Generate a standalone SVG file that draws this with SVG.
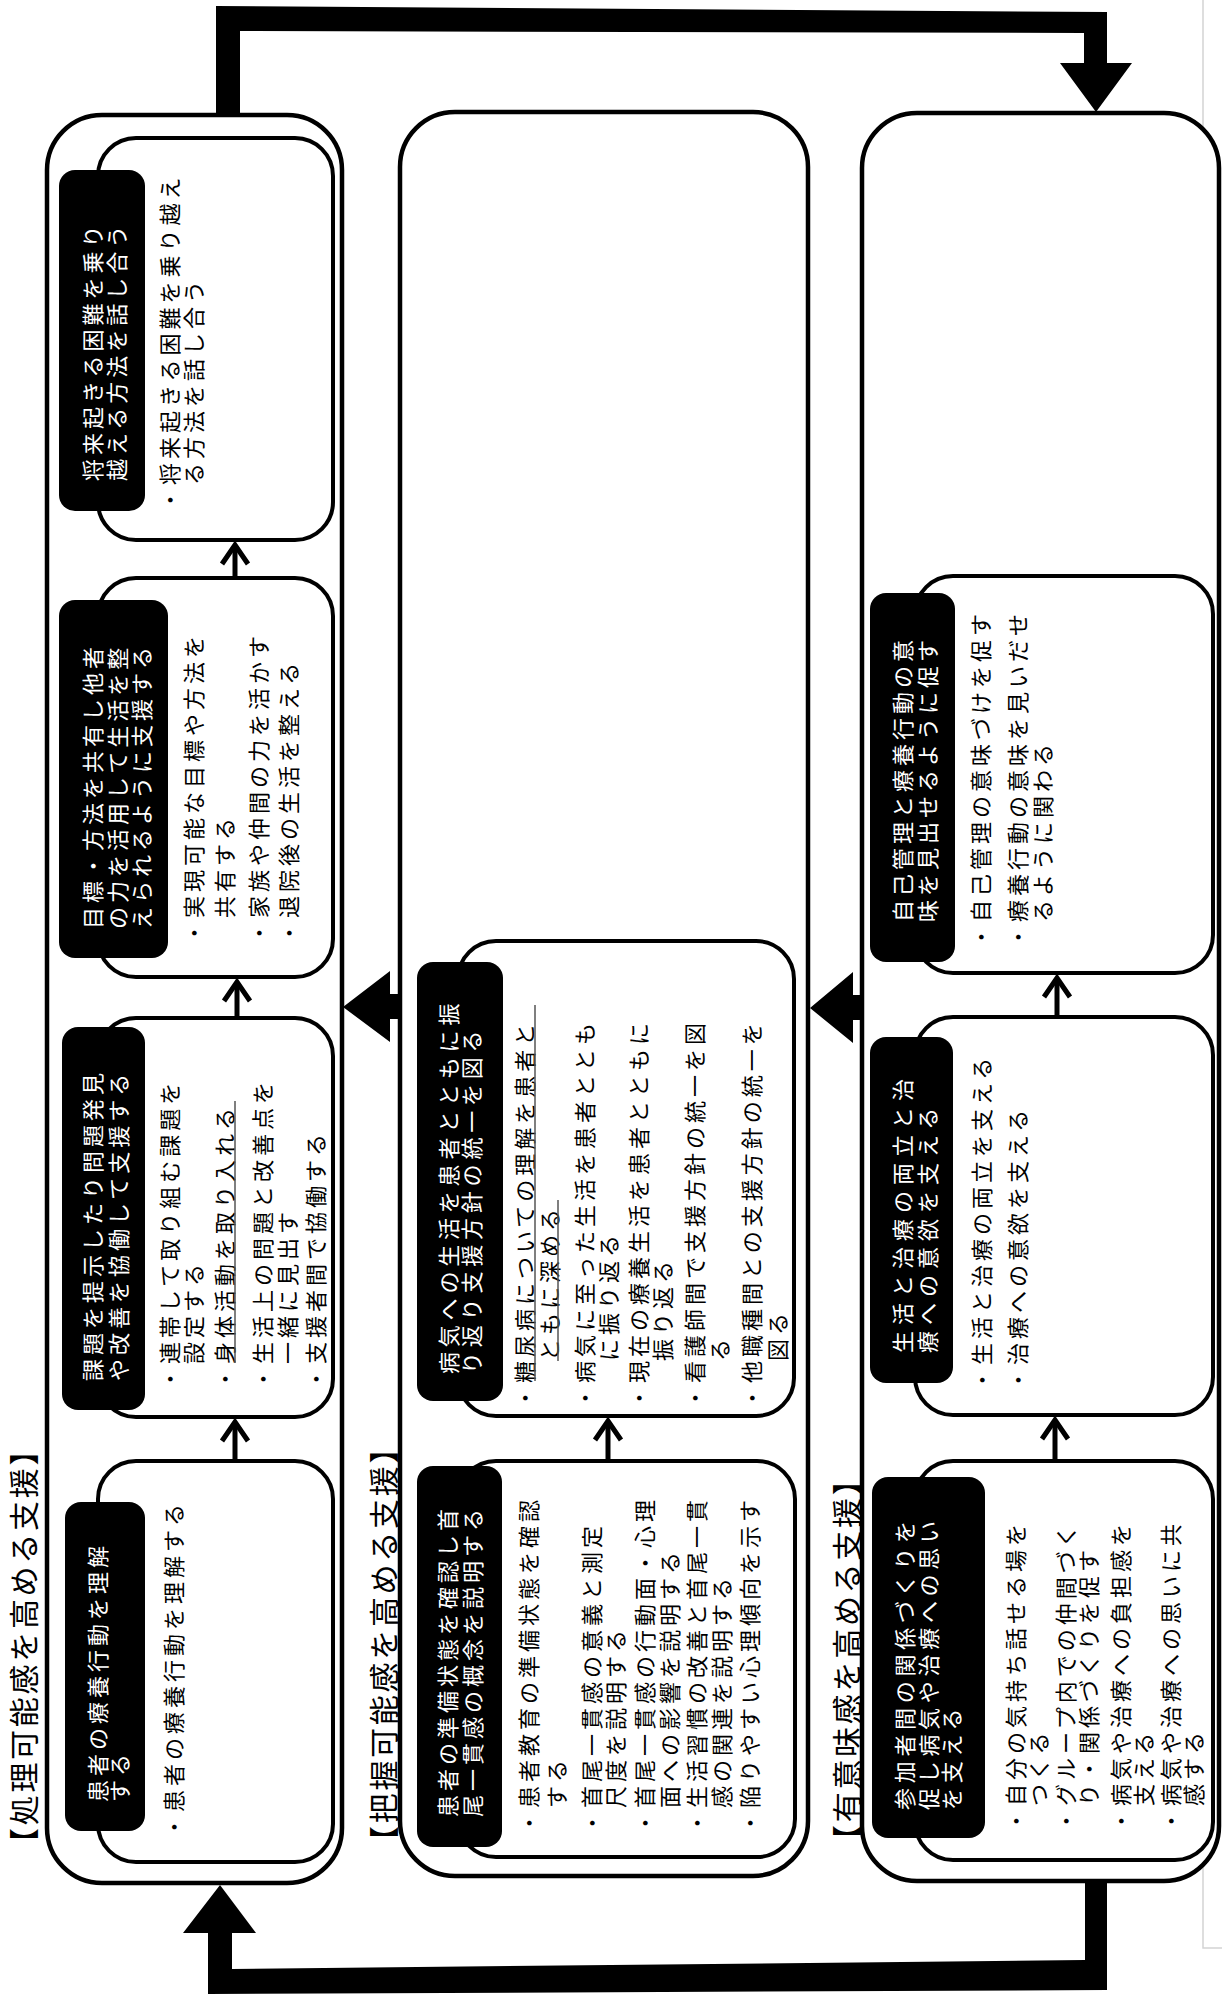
<svg xmlns="http://www.w3.org/2000/svg" width="1222" height="1999" viewBox="0 0 1222 1999">
<defs>
<style>
text{font-family:"Noto Sans CJK JP","Noto Sans CJK SC",sans-serif;dominant-baseline:central}
.outer{fill:#fff;stroke:#000;stroke-width:4.5}
.node{fill:#fff;stroke:#000;stroke-width:4}
.label{fill:#000}
.lt{fill:#fff;font-size:22px;letter-spacing:4px}
.bt{fill:#000;font-size:22px;letter-spacing:4px}
.hd{fill:#000;font-size:30px;letter-spacing:2.7px}
.ul{stroke:#555;stroke-width:1.5}
.arr{fill:none;stroke:#000;stroke-width:5}
.big{fill:#000}
</style>
<marker id="chev" viewBox="-26 -18 34 36" refX="0" refY="0" markerWidth="34" markerHeight="36" markerUnits="userSpaceOnUse" orient="auto">
<path d="M-19,-13 L0,0 L-19,13" fill="none" stroke="#000" stroke-width="5"/>
</marker>
</defs>
<rect width="1222" height="1999" fill="#fff"/>
<polyline points="1203,0 1203,1948 1222,1948" fill="none" stroke="#d4d4d4" stroke-width="1.5"/>
<g transform="translate(0,1999) rotate(-90)">

<g id="section-shori">
<rect class="outer" x="116" y="47" width="1768" height="295" rx="55"/>
<text class="hd" x="141" y="21.5">【処理可能感を高める支援】</text>
</g>
<g id="section-haaku">
<rect class="outer" x="123" y="400" width="1764" height="408" rx="55"/>
<text class="hd" x="143" y="381.5">【把握可能感を高める支援】</text>
</g>
<g id="section-yuuimi">
<rect class="outer" x="118" y="862" width="1768" height="357" rx="55"/>
<text class="hd" x="144" y="845">【有意味感を高める支援】</text>
</g>

<!-- Row 1 -->
<g id="node-1-1">
<rect class="node" x="137" y="98" width="401" height="235" rx="38"/>
<rect class="label" x="168" y="65" width="329" height="80" rx="16"/>
<text class="lt" x="197" y="96">患者の療養行動を理解</text>
<text class="lt" x="197" y="118">する</text>
<text class="bt" x="161" y="172">・患者の療養行動を理解する</text>
</g>
<g id="node-1-2">
<rect class="node" x="582" y="98" width="399" height="235" rx="38"/>
<rect class="label" x="589" y="62" width="383" height="83" rx="16"/>
<text class="lt" x="618" y="91">課題を提示したり問題発見</text>
<text class="lt" x="618" y="117">や改善を協働して支援する</text>
<text class="bt" x="609" y="168">・連帯して取り組む課題を</text>
<text class="bt" x="635" y="192">設定する</text>
<text class="bt" x="609" y="223">・身体活動を取り入れる</text>
<line class="ul" x1="636" y1="235" x2="898" y2="235"/>
<text class="bt" x="609" y="261">・生活上の問題と改善点を</text>
<text class="bt" x="635" y="286">一緒に見出す</text>
<text class="bt" x="609" y="314">・支援者間で協働する</text>
</g>
<g id="node-1-3">
<rect class="node" x="1022" y="98" width="399" height="235" rx="38"/>
<rect class="label" x="1041" y="59" width="358" height="109" rx="16"/>
<text class="lt" x="1070" y="91">目標・方法を共有し他者</text>
<text class="lt" x="1070" y="116">の力を活用して生活を整</text>
<text class="lt" x="1070" y="140">えられるように支援する</text>
<text class="bt" x="1055" y="192">・実現可能な目標や方法を</text>
<text class="bt" x="1081" y="223">共有する</text>
<text class="bt" x="1055" y="257">・家族や仲間の力を活かす</text>
<text class="bt" x="1055" y="287">・退院後の生活を整える</text>
</g>
<g id="node-1-4">
<rect class="node" x="1459" y="98" width="402" height="235" rx="38"/>
<rect class="label" x="1488" y="59" width="341" height="86" rx="16"/>
<text class="lt" x="1518" y="91">将来起きる困難を乗り</text>
<text class="lt" x="1518" y="115">越える方法を話し合う</text>
<text class="bt" x="1488" y="168">・将来起きる困難を乗り越え</text>
<text class="bt" x="1514" y="192">る方法を話し合う</text>
</g>

<!-- Row 2 -->
<g id="node-2-1">
<rect class="node" x="142" y="458" width="396" height="337" rx="38"/>
<rect class="label" x="152" y="417" width="381" height="85" rx="16"/>
<text class="lt" x="182" y="446">患者の準備状態を確認し首</text>
<text class="lt" x="182" y="471">尾一貫感の概念を説明する</text>
<text class="bt" x="165" y="527">・患者教育の準備状態を確認</text>
<text class="bt" x="191" y="555">する</text>
<text class="bt" x="165" y="590">・首尾一貫感の意義と測定</text>
<text class="bt" x="191" y="614">尺度を説明する</text>
<text class="bt" x="165" y="643">・首尾一貫感の行動面・心理</text>
<text class="bt" x="191" y="668">面への影響を説明する</text>
<text class="bt" x="165" y="695">・生活習慣の改善と首尾一貫</text>
<text class="bt" x="191" y="720">感の関連を説明する</text>
<text class="bt" x="165" y="748">・陥りやすい心理傾向を示す</text>
</g>
<g id="node-2-2">
<rect class="node" x="583" y="458" width="475" height="336" rx="38"/>
<rect class="label" x="598" y="417" width="439" height="86" rx="16"/>
<text class="lt" x="625" y="447" style="letter-spacing:4.8px">病気への生活を患者とともに振</text>
<text class="lt" x="625" y="470" style="letter-spacing:4.8px">り返り支援方針の統一を図る</text>
<g style="letter-spacing:4.8px">
<text class="bt" x="590" y="523">・糖尿病についての理解を患者と</text>
<line class="ul" x1="618" y1="535" x2="994" y2="535"/>
<text class="bt" x="638" y="548">ともに深める</text>
<line class="ul" x1="638" y1="558" x2="799" y2="558"/>
<text class="bt" x="590" y="583">・病気に至った生活を患者ととも</text>
<text class="bt" x="638" y="607">に振り返る</text>
<text class="bt" x="590" y="637">・現在の療養生活を患者とともに</text>
<text class="bt" x="638" y="661">振り返る</text>
<text class="bt" x="590" y="693">・看護師間で支援方針の統一を図</text>
<text class="bt" x="638" y="718">る</text>
<text class="bt" x="590" y="750">・他職種間との支援方針の統一を</text>
<text class="bt" x="638" y="776">図る</text>
</g>
</g>

<!-- Row 3 -->
<g id="node-3-1">
<rect class="node" x="139" y="915" width="399" height="298" rx="38"/>
<rect class="label" x="161" y="872" width="361" height="113" rx="16"/>
<text class="lt" x="189" y="903" style="letter-spacing:4.7px">参加者間の関係づくりを</text>
<text class="lt" x="189" y="927" style="letter-spacing:4.7px">促し病気や治療への思い</text>
<text class="lt" x="189" y="950" style="letter-spacing:4.7px">を支える</text>
<text class="bt" x="167" y="1014">・自分の気持ち話せる場を</text>
<text class="bt" x="193" y="1037">つくる</text>
<text class="bt" x="167" y="1064">・グループ内での仲間づく</text>
<text class="bt" x="193" y="1087">り・関係づくりを促す</text>
<text class="bt" x="167" y="1119">・病気や治療への負担感を</text>
<text class="bt" x="193" y="1142">支える</text>
<text class="bt" x="167" y="1169">・病気や治療への思いに共</text>
<text class="bt" x="193" y="1192">感する</text>
</g>
<g id="node-3-2">
<rect class="node" x="584" y="915" width="398" height="298" rx="38"/>
<rect class="label" x="616" y="870" width="346" height="83" rx="16"/>
<text class="lt" x="646" y="901" style="letter-spacing:6px">生活と治療の両立と治</text>
<text class="lt" x="646" y="926" style="letter-spacing:6px">療への意欲を支える</text>
<text class="bt" x="608" y="980">・生活と治療の両立を支える</text>
<text class="bt" x="608" y="1016">・治療への意欲を支える</text>
</g>
<g id="node-3-3">
<rect class="node" x="1026" y="915" width="397" height="298" rx="38"/>
<rect class="label" x="1037" y="870" width="369" height="85" rx="16"/>
<text class="lt" x="1077" y="901">自己管理と療養行動の意</text>
<text class="lt" x="1077" y="926">味を見出せるように促す</text>
<text class="bt" x="1051" y="979">・自己管理の意味づけを促す</text>
<text class="bt" x="1051" y="1016">・療養行動の意味を見いだせ</text>
<text class="bt" x="1077" y="1041">るように関わる</text>
</g>

<g id="connectors">
<line class="arr" x1="538" y1="235" x2="577" y2="235" marker-end="url(#chev)"/>
<line class="arr" x1="981" y1="237" x2="1017" y2="237" marker-end="url(#chev)"/>
<line class="arr" x1="1421" y1="235" x2="1454" y2="235" marker-end="url(#chev)"/>
<line class="arr" x1="538" y1="608" x2="578" y2="608" marker-end="url(#chev)"/>
<line class="arr" x1="538" y1="1055" x2="579" y2="1055" marker-end="url(#chev)"/>
<line class="arr" x1="982" y1="1057" x2="1021" y2="1057" marker-end="url(#chev)"/>
<polygon class="big" points="980,400 1005,400 1005,390 1028,390 992,343 957,390 980,390"/>
<polygon class="big" points="979,862 1004,862 1004,853 1027,853 991,810 956,853 979,853"/>
<polygon class="big" points="1886,216 1993,216 1987,1107 1936,1107 1936,1132 1887,1096 1936,1060 1936,1084 1966,1084 1968,240 1886,240"/>
<polygon class="big" points="118,1085 118,1107 9,1107 5,208 66,208 66,183 114,220 66,256 66,232 30,232 39,1085"/>
</g>
</g>
</svg>
